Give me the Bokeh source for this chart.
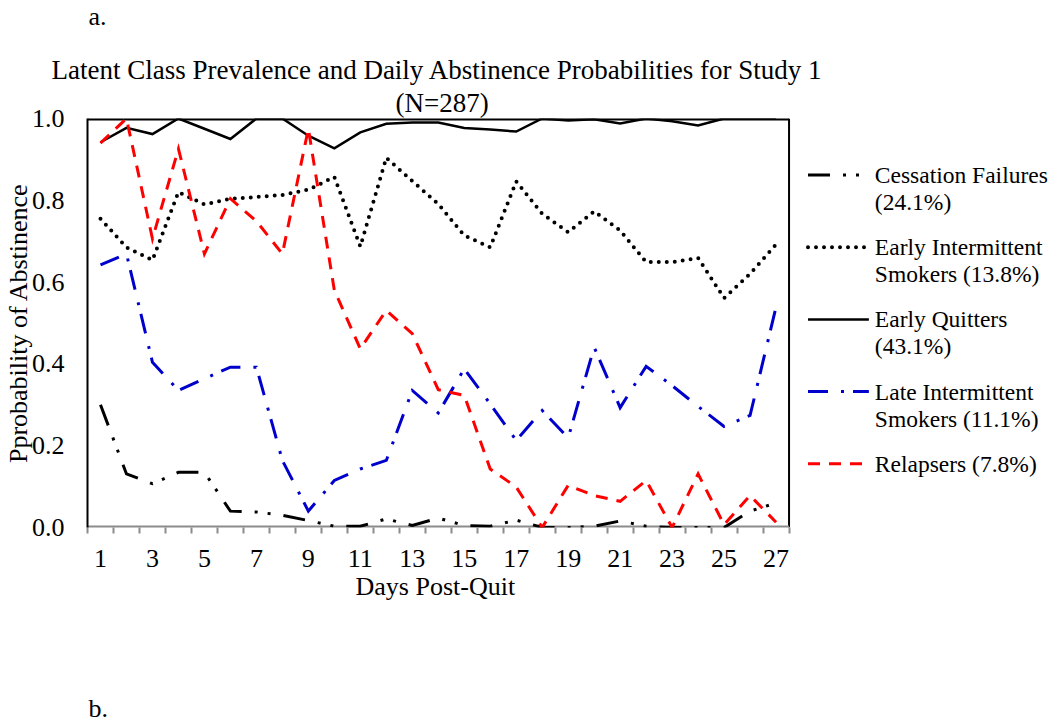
from bokeh.plotting import figure
from bokeh.models import Range1d, FixedTicker, NumeralTickFormatter, Title
from bokeh.layouts import column
from bokeh.embed import file_html
from bokeh.resources import INLINE
from bokeh.core.properties import value

# ---------------- data ----------------
days = list(range(1, 28))
x_tick_days = [1, 3, 5, 7, 9, 11, 13, 15, 17, 19, 21, 23, 25, 27]
y_ticks = [0.0, 0.2, 0.4, 0.6, 0.8, 1.0]

cessation_failures = [0.300, 0.131, 0.107, 0.135, 0.135, 0.040, 0.038, 0.030, 0.017, 0.003,
                      0.003, 0.021, 0.005, 0.023, 0.005, 0.003, 0.018, 0.000, 0.000, 0.003,
                      0.016, 0.003, 0.000, 0.000, 0.000, 0.040, 0.060]
early_intermittent = [0.755, 0.685, 0.654, 0.820, 0.790, 0.804, 0.808, 0.813, 0.826, 0.857,
                      0.687, 0.904, 0.847, 0.791, 0.714, 0.685, 0.846, 0.767, 0.722, 0.773,
                      0.726, 0.649, 0.649, 0.659, 0.561, 0.620, 0.692]
early_quitters = [0.942, 0.977, 0.962, 1.000, 0.975, 0.950, 1.000, 1.000, 0.958, 0.927,
                  0.966, 0.987, 0.990, 0.990, 0.977, 0.973, 0.968, 1.000, 0.995, 0.998,
                  0.988, 1.000, 0.993, 0.983, 1.000, 1.000, 1.000]
late_intermittent = [0.642, 0.669, 0.404, 0.335, 0.364, 0.392, 0.392, 0.164, 0.040, 0.115,
                     0.143, 0.164, 0.335, 0.280, 0.388, 0.302, 0.213, 0.286, 0.219, 0.441,
                     0.293, 0.394, 0.347, 0.296, 0.247, 0.274, 0.539]
relapsers = [0.940, 1.000, 0.706, 0.926, 0.669, 0.804, 0.749, 0.669, 0.975, 0.580,
             0.437, 0.531, 0.474, 0.337, 0.323, 0.143, 0.099, 0.000, 0.103, 0.078,
             0.064, 0.115, 0.000, 0.131, 0.007, 0.078, 0.013]

series_names = [["Cessation Failures", "(24.1%)"],
                ["Early Intermittent", "Smokers (13.8%)"],
                ["Early Quitters", "(43.1%)"],
                ["Late Intermittent", "Smokers (11.1%)"],
                ["Relapsers (7.8%)"]]

title_line1 = "Latent Class Prevalence and Daily Abstinence Probabilities for Study 1"
title_line2 = "(N=287)"
x_label = "Days Post-Quit"
y_label = "Pprobability of Abstinence"
panel_a = "a."
panel_b = "b."

# ---------------- styles ----------------
FONT = "Liberation Serif"
styles = [
    dict(line_color="black", line_width=3, line_dash="22 13 3 10 3 13", line_cap="butt"),
    dict(line_color="black", line_width=4, line_dash="0 8", line_cap="round"),
    dict(line_color="black", line_width=2.5, line_dash="solid", line_cap="butt"),
    dict(line_color="#0000CC", line_width=3, line_dash="20 13 3 9", line_cap="butt"),
    dict(line_color="#FF0000", line_width=3, line_dash="12 9", line_cap="butt"),
]
series = [cessation_failures, early_intermittent, early_quitters, late_intermittent, relapsers]

W = 1049
HA, HM, HB = 40, 577, 107              # heights: top strip, main chart, bottom strip
FL, FR = 85, 788                       # plot box left/right (canvas px)
FT, FB = 118 - HA, 527 - HA            # plot box top/bottom inside the main canvas
X0, X1 = 0.5, 27.5
XMAX = X0 + (W - FL) * (X1 - X0) / (FR - FL)


def px_to_x(px):
    return X0 + (px - FL) * (X1 - X0) / (FR - FL)


def py_to_y(py):                       # py: page pixels
    return (FB + HA - py) / (FB - FT)


p = figure(width=W, height=HM, output_backend="svg", toolbar_location=None, title=None,
           x_range=Range1d(X0, XMAX), y_range=Range1d(0, 1),
           min_border_left=FL, min_border_right=0, min_border_top=FT,
           min_border_bottom=HM - FB)
p.xgrid.visible = False
p.ygrid.visible = False
p.outline_line_color = None


def ttl(text, size, **kw):
    return Title(text=text, text_font=FONT, text_font_size=size, text_font_style="normal",
                 text_color="black", **kw)


HM_ = 4  # title inner margin
p.add_layout(ttl(title_line2, "27px", align="left", offset=397 - FL - HM_, standoff=1), "above")
p.add_layout(ttl(title_line1, "27px", align="left", offset=53 - FL - HM_, standoff=2), "above")

# y axis
ya = p.yaxis[0]
ya.ticker = FixedTicker(ticks=y_ticks)
ya.formatter = NumeralTickFormatter(format="0.0")
ya.major_tick_line_color = None
ya.minor_tick_line_color = None
ya.major_tick_out = 0
ya.major_tick_in = 0
ya.major_label_standoff = 23
ya.axis_line_color = "black"
ya.axis_line_width = 2
ya.axis_label = y_label
ya.axis_label_standoff = -4
ya.axis_label_text_font = FONT
ya.axis_label_text_font_size = "26px"
ya.axis_label_text_font_style = "normal"
ya.axis_label_text_color = "black"
ya.major_label_text_font = FONT
ya.major_label_text_font_size = "26px"
ya.major_label_text_color = "black"

# x axis (line drawn separately so it stops at the plot box)
xa = p.xaxis[0]
xa.ticker = FixedTicker(ticks=x_tick_days, minor_ticks=[d - 0.5 for d in days] + [days[-1] + 0.5])
xa.major_tick_line_color = None
xa.major_tick_out = 6
xa.major_tick_in = 0
xa.minor_tick_out = 6
xa.minor_tick_in = 0
xa.minor_tick_line_color = "#8c8c8c"
xa.minor_tick_line_width = 2
xa.axis_line_color = None
xa.major_label_standoff = 16
xa.major_label_text_font = FONT
xa.major_label_text_font_size = "26px"
xa.major_label_text_color = "black"

p.add_layout(ttl(x_label, "26px", align="left", offset=357 - FL - HM_,
                 vertical_align="top", standoff=4), "below")

# plot box: top, right, bottom (gray axis line)
p.line([X0, X1], [1, 1], line_color="black", line_width=4)
p.line([X1, X1], [0, 1], line_color="black", line_width=2)
p.line([X0, X1], [0, 0], line_color="#8c8c8c", line_width=4)

for ys, st in zip(series, styles):
    p.line(days, ys, line_join="miter", **st)

# legend
entry_y0 = 174.5
entry_pitch = 72.2
line_pitch = 27
for i, (names, st) in enumerate(zip(series_names, styles)):
    cy = entry_y0 + i * entry_pitch
    p.line([px_to_x(807), px_to_x(868)], [py_to_y(cy), py_to_y(cy)], **st)
    for j, t in enumerate(names):
        p.text(x=[px_to_x(874)], y=[py_to_y(cy + j * line_pitch)], text=[t],
               text_font=value(FONT), text_font_size="23.5px", text_baseline="middle",
               text_align="left", text_color="black")


# top and bottom strips carrying the panel letters (pixel coordinates, y up)
def strip(h):
    f = figure(width=W, height=h, output_backend="svg", toolbar_location=None, title=None,
               x_range=Range1d(0, W - FL), y_range=Range1d(0, h),
               x_axis_location=None, y_axis_location=None,
               min_border_left=FL, min_border_right=0, min_border_top=0, min_border_bottom=0)
    f.xgrid.visible = False
    f.ygrid.visible = False
    f.outline_line_color = None
    return f


pa = strip(HA)
pa.text(x=[1], y=[HA - 16], text=[panel_a], text_font=value(FONT), text_font_size="26px",
        text_baseline="middle", text_align="left", text_color="black")
pb = strip(HB)
pb.text(x=[1], y=[16], text=[panel_b], text_font=value(FONT), text_font_size="26px",
        text_baseline="middle", text_align="left", text_color="black")

layout = column(pa, p, pb)
open("out.html", "w").write(file_html(layout, INLINE))
